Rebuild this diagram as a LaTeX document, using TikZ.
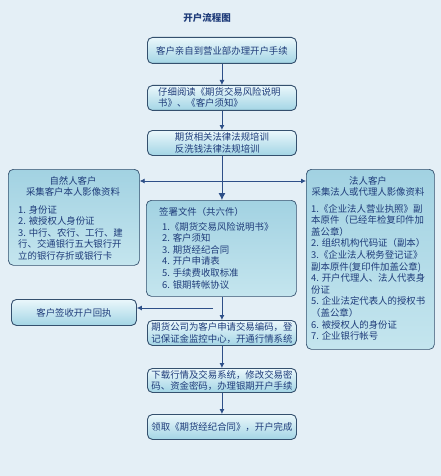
\documentclass[tikz,border=0pt]{standalone}
\usepackage{fontspec}
\setmainfont{Noto Sans CJK SC}
\usetikzlibrary{arrows.meta,shadings}
\definecolor{bg}{HTML}{E4EFF6}
\definecolor{edge}{HTML}{34506E}
\definecolor{ink}{HTML}{1F3C7A}
\definecolor{arr}{HTML}{2D4F88}
\definecolor{stop}{HTML}{EAF7FB}
\definecolor{sbot}{HTML}{A3D5E5}
\definecolor{btop}{HTML}{A2D2E2}
\definecolor{bbot}{HTML}{C4E5EE}
\tikzset{
  smallbox/.style={draw=edge, line width=0.9pt, rounded corners=5pt, top color=stop, bottom color=sbot, anchor=north west, inner sep=0pt},
  bigbox/.style={draw=edge, line width=0.7pt, rounded corners=5pt, top color=btop, bottom color=bbot, anchor=north west, inner sep=0pt},
  txt/.style={text=ink, font=\fontsize{9.4}{11.6}\selectfont, inner sep=0pt, align=left},
  flow/.style={draw=arr, line width=0.8pt, -{Latex[length=5pt,width=5pt]}},
}
\begin{document}
\begin{tikzpicture}[x=1pt,y=-1pt]
\fill[bg] (0,0) rectangle (441,476);
\useasboundingbox (0,0) rectangle (441,476);
\node[text=ink, font=\fontsize{9.5}{11}\selectfont\bfseries] (title) at (207,18) {开户流程图};
% boxes
\node[smallbox, minimum width=149pt, minimum height=26pt] (b1) at (147,37) {};
\node[txt] (t1) at (b1.center) {客户亲自到营业部办理开户手续};
\node[smallbox, minimum width=149pt, minimum height=25pt] (b2) at (147,85) {};
\node[txt, anchor=north west] (t2) at (158,87) {仔细阅读《期货交易风险说明\\书》、《客户须知》};
\node[smallbox, minimum width=149pt, minimum height=25pt] (b3) at (147,130) {};
\node[txt] (t3) at (b3.center) {期货相关法律法规培训\\反洗钱法律法规培训};
% left box
\node[bigbox, minimum width=131pt, minimum height=96pt] (bl) at (8,169) {};
\node[txt, align=center, anchor=north] (tlh) at (73,176) {自然人客户\\采集客户本人影像资料};
\node[txt, anchor=north west] (tl) at (18,205) {1. 身份证\\2. 被授权人身份证\\3. 中行、农行、工行、建\\行、交通银行五大银行开\\立的银行存折或银行卡};
% sign box
\node[bigbox, minimum width=150pt, minimum height=96pt] (bs) at (146,200) {};
\node[txt, anchor=north west] (tsh) at (159,207) {签署文件（共六件）};
\node[txt, anchor=north west] (ts) at (162,222) {1.《期货交易风险说明书》\\2. 客户须知\\3. 期货经纪合同\\4. 开户申请表\\5. 手续费收取标准\\6. 银期转帐协议};
% right box
\node[bigbox, minimum width=128pt, minimum height=180pt] (br) at (306,169) {};
\node[txt, align=center, anchor=north] (trh) at (368,176) {法人客户\\采集法人或代理人影像资料};
\node[txt, anchor=north west] (tr) at (311,204) {1.《企业法人营业执照》副\\本原件（已经年检复印件加\\盖公章）\\2. 组织机构代码证（副本）\\3.《企业法人税务登记证》\\副本原件(复印件加盖公章)\\4. 开户代理人、法人代表身\\份证\\5. 企业法定代表人的授权书\\（盖公章）\\6. 被授权人的身份证\\7. 企业银行帐号};
% receipt
\node[smallbox, minimum width=125pt, minimum height=26pt] (bk) at (11,299) {};
\node[txt] (tk) at (bk.center) {客户签收开户回执};
% lower boxes
\node[smallbox, minimum width=149pt, minimum height=25pt] (b6) at (147,320) {};
\node[txt] (t6) at (b6.center) {期货公司为客户申请交易编码，登\\记保证金监控中心，开通行情系统};
\node[smallbox, minimum width=149pt, minimum height=24pt] (b7) at (147,368) {};
\node[txt] (t7) at (b7.center) {下载行情及交易系统，修改交易密\\码、资金密码，办理银期开户手续};
\node[smallbox, minimum width=149pt, minimum height=25pt] (b8) at (147,414) {};
\node[txt] (t8) at (b8.center) {领取《期货经纪合同》，开户完成};
% connectors
\coordinate (j1) at (217,181);
\coordinate (j2) at (217,308);
\draw[flow] (b1.south) -- (b2.north);
\draw[flow] (b2.south) -- (b3.north);
\draw[flow, -{Latex[length=7pt,width=7pt]}] (b3.south) -- (bs.north -| b3.south);
\draw[draw=arr, line width=0.8pt, {Latex[length=5pt,width=5pt]}-{Latex[length=5pt,width=5pt]}] (bl.east |- j1) -- (br.west |- j1);
\draw[flow] (bs.south -| b6.north) -- (b6.north);
\draw[flow] (213,308) -- (bk.east |- j2);
\draw[flow] (b6.south) -- (b7.north);
\draw[flow] (b7.south) -- (b8.north);
\end{tikzpicture}
\end{document}
